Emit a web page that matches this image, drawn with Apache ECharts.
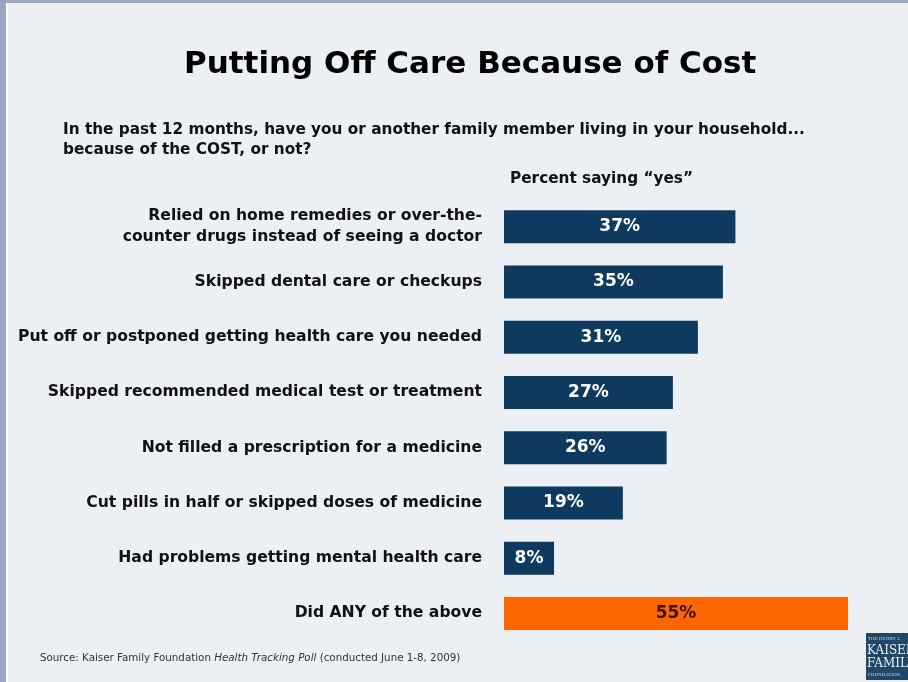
<!DOCTYPE html>
<html>
<head>
<meta charset="utf-8">
<script src="https://cdn.jsdelivr.net/npm/echarts@6/dist/echarts.min.js"></script>
<style>
  html, body { margin: 0; padding: 0; background: #eceff3; }
  #chart { width: 908px; height: 682px; }
</style>
</head>
<body>
<div id="chart"></div>
<script>
// 类别（从上到下）
var categories = [
  'Relied on home remedies or over-the-\ncounter drugs instead of seeing a doctor',
  'Skipped dental care or checkups',
  'Put off or postponed getting health care you needed',
  'Skipped recommended medical test or treatment',
  'Not filled a prescription for a medicine',
  'Cut pills in half or skipped doses of medicine',
  'Had problems getting mental health care',
  'Did ANY of the above'
];
// 百分比
var values = [37, 35, 31, 27, 26, 19, 8, 55];
// 最后一条高亮
var highlight = [false, false, false, false, false, false, false, true];

var chart = echarts.init(document.getElementById('chart'));
var font = 'Verdana, "DejaVu Sans", sans-serif';

var option = {
  backgroundColor: '#eceff3',
  animation: false,
  title: {
    text: 'Putting Off Care Because of Cost',
    left: 179,
    top: 44,
    textStyle: { fontFamily: font, fontSize: 31, fontWeight: 'bold', color: '#000' }
  },
  graphic: [
    // 边框
    { type: 'rect', shape: { x: 0, y: 0, width: 908, height: 3 }, style: { fill: '#98a8c0' }, silent: true },
    { type: 'rect', shape: { x: 0, y: 0, width: 6, height: 682 }, style: { fill: '#98a8c0' }, silent: true },
    { type: 'rect', shape: { x: 6, y: 3, width: 2, height: 679 }, style: { fill: '#ffffff' }, silent: true },
    {
      type: 'text', left: 63, top: 120,
      style: {
        text: 'In the past 12 months, have you or another family member living in your household...\nbecause of the COST, or not?',
        fontFamily: font, fontSize: 15.3, fontWeight: 'bold', fill: '#111', lineHeight: 20
      }
    },
    {
      type: 'text', left: 510, top: 172,
      style: { text: 'Percent saying \u201cyes\u201d', fontFamily: font, fontSize: 15.3, fontWeight: 'bold', fill: '#111' }
    },
    {
      type: 'text', left: 40, top: 653,
      style: {
        rich: {
          n: { fontFamily: 'Tahoma, "DejaVu Sans", sans-serif', fontSize: 10.3, fill: '#333' },
          i: { fontFamily: 'Tahoma, "DejaVu Sans", sans-serif', fontSize: 10.3, fill: '#333', fontStyle: 'italic' }
        },
        text: '{n|Source: Kaiser Family Foundation }{i|Health Tracking Poll}{n| (conducted June 1-8, 2009)}'
      }
    },
    // logo
    { type: 'rect', shape: { x: 866, y: 633, width: 42, height: 47 }, style: { fill: '#1f4868' }, silent: true },
    { type: 'text', left: 868, top: 636, style: { text: 'THE HENRY J.', fontFamily: 'serif', fontSize: 5, fill: '#c8d4e0' } },
    { type: 'text', left: 867, top: 644, style: { text: 'KAISER\nFAMILY', fontFamily: '"DejaVu Serif", serif', fontSize: 12, lineHeight: 13, fill: '#e8eef4' } },
    { type: 'text', left: 868, top: 672, style: { text: 'FOUNDATION', fontFamily: 'serif', fontSize: 5, fill: '#c8d4e0' } }
  ],
  grid: { left: 504, right: 60, top: 199, bottom: 41, containLabel: false },
  xAxis: {
    type: 'value', min: 0, max: 55, show: false
  },
  yAxis: {
    type: 'category',
    inverse: true,
    data: categories,
    axisLine: { show: false },
    axisTick: { show: false },
    axisLabel: {
      margin: 22,
      align: 'right',
      fontFamily: font,
      fontSize: 15.6,
      fontWeight: 'bold',
      color: '#111',
      lineHeight: 21
    }
  },
  series: [{
    type: 'bar',
    barWidth: 33,
    data: values.map(function (v, i) {
      return {
        value: v,
        itemStyle: { color: highlight[i] ? '#ff6600' : '#0d3a5e' },
        label: { color: highlight[i] ? '#3a1500' : '#ffffff' }
      };
    }),
    label: {
      show: true,
      position: 'inside',
      formatter: '{c}%',
      fontFamily: font,
      fontSize: 17,
      fontWeight: 'bold'
    }
  }]
};
chart.setOption(option);
</script>
</body>
</html>
